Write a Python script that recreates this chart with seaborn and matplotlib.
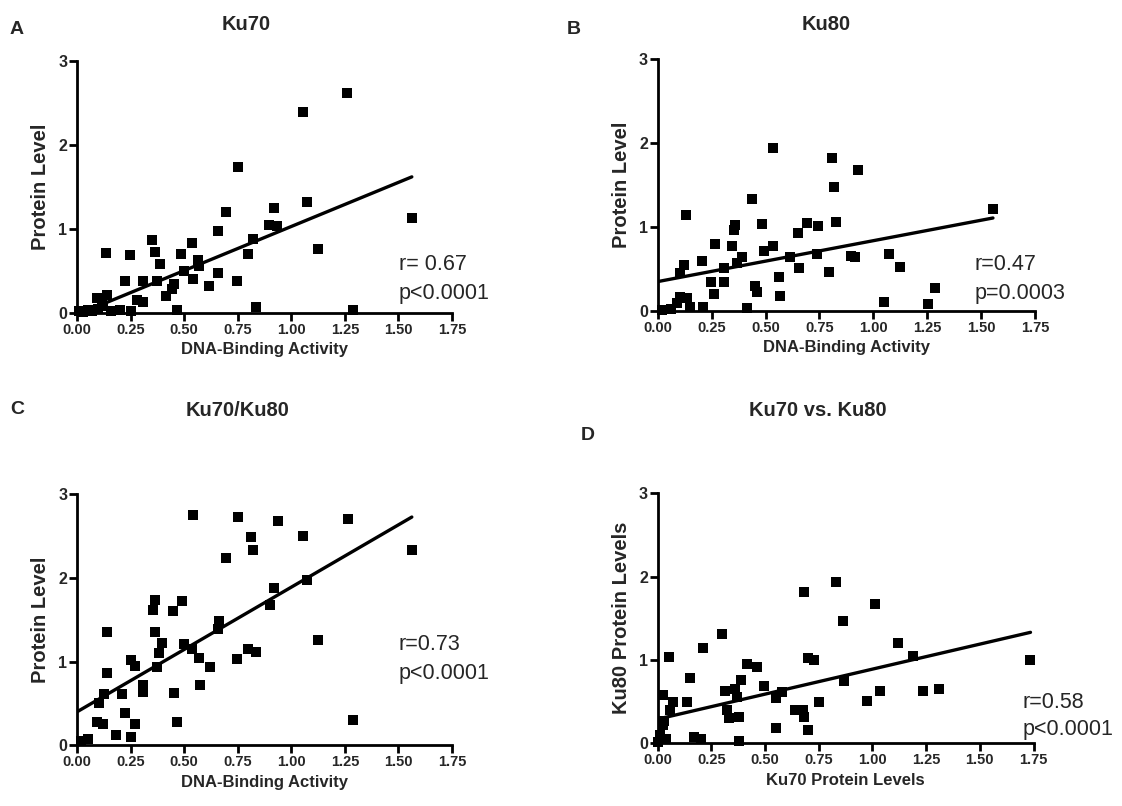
import matplotlib
matplotlib.use("Agg")
import matplotlib.pyplot as plt
import seaborn as sns
import numpy as np
import pandas as pd

# ---------------- data ----------------
# Panel A: Ku70 protein vs DNA-binding activity
ku70_x = [1.258, 1.056, 0.75, 1.073, 0.918, 0.694, 0.897, 0.935, 0.659, 0.82,
          0.351, 0.538, 1.123, 0.362, 0.137, 0.247, 0.487, 0.80, 0.566, 0.387,
          0.571, 0.498, 0.656, 0.308, 0.224, 0.375, 0.54, 0.745, 0.617, 0.454,
          0.443, 0.415, 0.28, 0.306, 0.138, 0.092, 0.115, 0.123, 0.465, 0.834,
          1.29, 1.5625, 0.01, 0.03, 0.05, 0.07, 0.10, 0.16, 0.20, 0.25]
ku70_y = [2.62, 2.39, 1.74, 1.32, 1.25, 1.20, 1.05, 1.03, 0.98, 0.88,
          0.87, 0.83, 0.76, 0.73, 0.71, 0.69, 0.70, 0.70, 0.63, 0.58,
          0.56, 0.50, 0.48, 0.38, 0.38, 0.38, 0.40, 0.38, 0.32, 0.34,
          0.28, 0.20, 0.15, 0.13, 0.22, 0.18, 0.14, 0.08, 0.04, 0.07,
          0.03, 1.13, 0.02, 0.01, 0.03, 0.02, 0.05, 0.02, 0.03, 0.02]

# Panel B: Ku80 protein vs DNA-binding activity
ku80_x = [0.536, 0.809, 0.931, 0.818, 0.4375, 0.131, 0.36, 0.356, 0.484, 0.691,
          0.826, 0.745, 0.651, 0.267, 0.535, 0.346, 0.492, 0.737, 1.071, 0.895,
          0.917, 0.612, 0.393, 0.204, 0.366, 0.124, 0.104, 0.306, 0.656, 1.122,
          0.796, 0.563, 0.247, 0.308, 0.45, 0.459, 0.261, 0.567, 1.05, 0.104,
          0.135, 0.212, 0.413, 0.15, 0.02, 0.06, 0.09, 1.555, 1.286, 1.254]
ku80_y = [1.94, 1.82, 1.68, 1.48, 1.33, 1.14, 1.02, 0.96, 1.04, 1.05,
          1.06, 1.01, 0.93, 0.80, 0.77, 0.77, 0.71, 0.68, 0.68, 0.65,
          0.64, 0.64, 0.64, 0.60, 0.57, 0.55, 0.45, 0.51, 0.51, 0.52,
          0.46, 0.41, 0.34, 0.34, 0.30, 0.23, 0.20, 0.18, 0.11, 0.17,
          0.15, 0.05, 0.03, 0.05, 0.01, 0.02, 0.09, 1.21, 0.27, 0.08]

# Panel C: Ku70/Ku80 protein vs DNA-binding activity
ratio_x = [0.541, 0.751, 1.263, 0.936, 0.812, 1.054, 0.823, 0.695, 1.073, 0.919,
           0.365, 0.491, 0.356, 0.446, 0.90, 0.661, 0.658, 0.138, 0.362, 1.126,
           0.398, 0.498, 0.381, 0.80, 0.835, 0.538, 0.745, 0.569, 0.252, 0.272,
           0.619, 0.375, 0.14, 0.574, 0.454, 0.306, 0.309, 0.128, 0.208, 0.104,
           0.224, 0.092, 1.289, 0.465, 0.27, 0.02, 0.05, 0.12, 0.18, 0.25, 1.5625]
ratio_y = [2.75, 2.73, 2.70, 2.68, 2.49, 2.50, 2.34, 2.24, 1.98, 1.88,
           1.74, 1.73, 1.62, 1.61, 1.68, 1.49, 1.39, 1.35, 1.36, 1.26,
           1.22, 1.21, 1.10, 1.15, 1.11, 1.15, 1.03, 1.04, 1.02, 0.95,
           0.94, 0.93, 0.87, 0.72, 0.63, 0.72, 0.64, 0.61, 0.61, 0.50,
           0.39, 0.28, 0.30, 0.28, 0.26, 0.05, 0.08, 0.25, 0.12, 0.10, 2.33]

# Panel D: Ku80 vs Ku70 protein levels
vs_x = [0.828, 0.681, 1.013, 0.864, 0.301, 1.12, 0.2125, 0.054, 0.70, 0.729,
        1.19, 0.417, 0.461, 0.15, 0.386, 0.866, 0.496, 0.313, 0.36, 1.035,
        0.577, 0.549, 0.026, 0.368, 0.135, 0.749, 0.976, 0.639, 0.675, 0.321,
        0.681, 0.333, 0.38, 0.057, 0.026, 0.70, 0.549, 1.736, 1.236, 1.31,
        0.073, 0.0, 0.01, 0.04, 0.17, 0.20, 0.38, 0.03]
vs_y = [1.93, 1.81, 1.67, 1.47, 1.31, 1.20, 1.14, 1.04, 1.02, 1.00,
        1.05, 0.95, 0.91, 0.78, 0.76, 0.75, 0.69, 0.63, 0.65, 0.63,
        0.62, 0.54, 0.58, 0.56, 0.49, 0.50, 0.51, 0.40, 0.40, 0.40,
        0.32, 0.30, 0.32, 0.40, 0.22, 0.16, 0.18, 1.00, 0.63, 0.65,
        0.50, 0.02, 0.10, 0.05, 0.08, 0.05, 0.03, 0.27]

# Regression lines: (intercept, slope, x_start, x_end)
fit_A = (-0.02, 1.05, 0.01, 1.5625)
fit_B = (0.35, 0.487, 0.0, 1.555)
fit_C = (0.40, 1.49, 0.0, 1.5625)
fit_D = (0.29, 0.60, 0.0, 1.736)

titles = ["Ku70", "Ku80", "Ku70/Ku80", "Ku70 vs. Ku80"]
letters = ["A", "B", "C", "D"]
xlabels = ["DNA-Binding Activity", "DNA-Binding Activity",
           "DNA-Binding Activity", "Ku70 Protein Levels"]
ylabels = ["Protein Level", "Protein Level", "Protein Level", "Ku80 Protein Levels"]
stats_r = ["r= 0.67", "r=0.47", "r=0.73", "r=0.58"]
stats_p = ["p<0.0001", "p=0.0003", "p<0.0001", "p<0.0001"]
x_ticks = [0.00, 0.25, 0.50, 0.75, 1.00, 1.25, 1.50, 1.75]
x_ticklabels = ["0.00", "0.25", "0.50", "0.75", "1.00", "1.25", "1.50", "1.75"]
y_ticks = [0, 1, 2, 3]
y_ticklabels = ["0", "1", "2", "3"]

# ---------------- style ----------------
sns.set_style("ticks")
plt.rcParams['font.family'] = ['Liberation Sans', 'DejaVu Sans']
REG = ['Liberation Sans', 'DejaVu Sans']

W, H = 1122, 806
fig = plt.figure(figsize=(W / 100, H / 100), dpi=100)
fig.patch.set_facecolor("white")

def rect(x0, y_bottom, x1, y_top):
    return [x0 / W, (H - y_bottom) / H, (x1 - x0) / W, (y_bottom - y_top) / H]

axes_px = [
    (77, 313, 452, 61),
    (657.7, 311, 1035, 59),
    (77, 745.3, 452, 494.3),
    (657.7, 743.3, 1033.5, 493.3),
]
datasets = [(ku70_x, ku70_y, fit_A), (ku80_x, ku80_y, fit_B),
            (ratio_x, ratio_y, fit_C), (vs_x, vs_y, fit_D)]

letter_pos = [(17, 29), (574, 29), (17, 410), (588, 436)]
title_pos = [(246, 24), (826, 24), (238, 410), (818, 410)]
stat_pos = [(399, 264, 293), (975, 265, 293), (399, 645, 673), (1023, 702, 730)]

for i, (px, (xs, ys, fit)) in enumerate(zip(axes_px, datasets)):
    ax = fig.add_axes(rect(*px))
    df = pd.DataFrame({"x": xs, "y": ys})
    sns.scatterplot(data=df, x="x", y="y", marker="s", s=50, color="black",
                    linewidth=0, ax=ax, clip_on=False, zorder=3)
    b0, b1, xa, xb = fit
    line_df = pd.DataFrame({"x": [xa, xb], "y": [b0 + b1 * xa, b0 + b1 * xb]})
    sns.lineplot(data=line_df, x="x", y="y", color="black", linewidth=2.4,
                 ax=ax, zorder=4)
    ax.set_xlim(0, 1.75)
    ax.set_ylim(0, 3)
    ax.set_xticks(x_ticks)
    ax.set_xticklabels(x_ticklabels, fontweight="bold", fontsize=10.5, family=REG)
    ax.set_yticks(y_ticks)
    ax.set_yticklabels(y_ticklabels, fontweight="bold", fontsize=11.5, family=REG)
    ax.tick_params(axis="both", length=5.5, width=2.0, pad=1.5, color="black")
    for sp in ["left", "bottom"]:
        ax.spines[sp].set_linewidth(2.0)
        ax.spines[sp].set_color("black")
    sns.despine(ax=ax)
    ax.set_xlabel(xlabels[i], fontweight="bold", fontsize=12, family=REG, labelpad=4)
    ax.set_ylabel(ylabels[i], fontweight="bold", fontsize=14.5, family=REG, labelpad=6)
    ax.set_facecolor("white")

    lx, ly = letter_pos[i]
    fig.text(lx / W, 1 - ly / H, letters[i], fontsize=14, fontweight="bold",
             ha="center", va="center", family=REG)
    tx, ty = title_pos[i]
    fig.text(tx / W, 1 - ty / H, titles[i], fontsize=14.5, fontweight="bold",
             ha="center", va="center", family=REG)
    sx, sy1, sy2 = stat_pos[i]
    fig.text(sx / W, 1 - sy1 / H, stats_r[i], fontsize=15.5, ha="left",
             va="center", family=REG)
    fig.text(sx / W, 1 - sy2 / H, stats_p[i], fontsize=15.5, ha="left",
             va="center", family=REG)

fig.savefig("out.png", dpi=100, facecolor="white")
